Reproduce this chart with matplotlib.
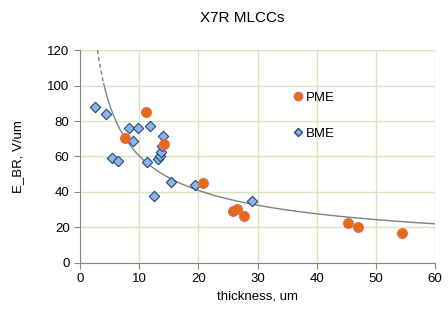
import numpy as np
import matplotlib.pyplot as plt
from matplotlib.lines import Line2D

plt.rcParams['font.family'] = ['Liberation Sans', 'DejaVu Sans']

bme_x = [2.5, 4.4, 5.4, 6.4, 8.3, 9.0, 9.8, 11.3, 11.8, 12.5, 13.2, 13.5, 13.7, 13.9, 14.0, 15.4, 19.5, 29.1]
bme_y = [88, 84, 59, 57.5, 76, 69, 76, 57, 77, 37.7, 58.5, 60, 62.5, 66, 71.5, 45.6, 44, 35]
pme_x = [7.6, 11.2, 14.2, 20.8, 25.9, 26.5, 27.7, 45.3, 47.0, 54.5]
pme_y = [70.4, 85, 67, 45, 29.3, 30.4, 26.5, 22.5, 20.3, 17]

# power-law trendline fitted on all points (log-log)
all_x = np.array(bme_x + pme_x)
all_y = np.array(bme_y + pme_y)
b, lna = np.polyfit(np.log(all_x), np.log(all_y), 1)
a = np.exp(lna)
x0 = (120 / a) ** (1 / b)
xs_dash = np.linspace(x0, 4.0, 30)
xs = np.linspace(4.0, 60, 200)

fig = plt.figure(figsize=(4.48, 3.26), dpi=100)
ax = fig.add_axes([0.1786, 0.1933, 0.7924, 0.6533])

ax.plot(xs_dash, a * xs_dash ** b, color='#808080', lw=1, ls=(0, (3, 2)), zorder=2)
ax.plot(xs, a * xs ** b, color='#808080', lw=1, zorder=2)

ax.scatter(bme_x, bme_y, marker='D', s=28, color='#8db4e2', edgecolor='#1f497d',
           linewidth=0.8, zorder=3)
ax.scatter(pme_x, pme_y, marker='o', s=50, color='#e46c0a', edgecolor='#e06666',
           linewidth=0.8, zorder=4)

ax.set_xlim(0, 60)
ax.set_ylim(0, 120)
ax.set_xticks(range(0, 61, 10))
ax.set_yticks(range(0, 121, 20))
ax.grid(True, color='#d7e4bd', lw=1)
ax.set_axisbelow(True)
for s in ['top', 'right']:
    ax.spines[s].set_visible(False)
for s in ['left', 'bottom']:
    ax.spines[s].set_color('#868686')
ax.tick_params(labelsize=9.5, color='#868686', length=4)

ax.set_xlabel('thickness, um', fontsize=9.5, labelpad=4)
ax.set_ylabel('E_BR, V/um', fontsize=9.5, labelpad=17)
fig.text(0.54, 0.945, 'X7R MLCCs', fontsize=11, ha='center', va='center')

handles = [Line2D([], [], ls='', marker='o', ms=6, color='#e46c0a', mec='#e06666'),
           Line2D([], [], ls='', marker='D', ms=4, color='#8db4e2', mec='#1f497d')]
ax.legend(handles, ['PME', 'BME'], loc='upper left', bbox_to_anchor=(0.577, 0.837),
          frameon=False, fontsize=9.5, labelspacing=1.8, handletextpad=0.1,
          handlelength=1.0, borderpad=0)

fig.savefig('out.png', dpi=100)
